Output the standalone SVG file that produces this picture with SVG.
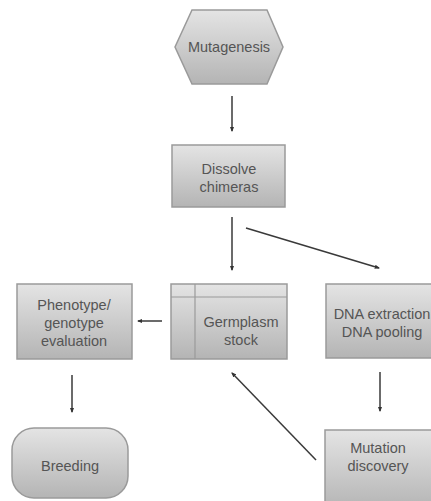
<svg xmlns="http://www.w3.org/2000/svg" width="431" height="501" viewBox="0 0 431 501">
<defs>
<linearGradient id="g" x1="0" y1="0" x2="0" y2="1">
<stop offset="0" stop-color="#e4e4e4"/>
<stop offset="1" stop-color="#b4b4b4"/>
</linearGradient>
<marker id="a" viewBox="0 0 10 10" refX="8" refY="5" markerWidth="3.5" markerHeight="3.5" orient="auto">
<path d="M0,1 L10,5 L0,9 z" fill="#333"/>
</marker>
<style>
.n{fill:url(#g);stroke:#9a9a9a;stroke-width:1.5}
.t{font-family:"Liberation Sans",Arial,sans-serif;font-size:14.5px;fill:#555;text-anchor:middle}
.c{stroke:#3a3a3a;stroke-width:1.5;fill:none;marker-end:url(#a)}
.i{stroke:#9a9a9a;stroke-width:1.2;fill:none}
</style>
</defs>
<rect width="431" height="501" fill="#fff"/>
<g id="connectors">
<line class="c" x1="232" y1="96" x2="232" y2="131"/>
<line class="c" x1="232" y1="217" x2="232" y2="270"/>
<line class="c" x1="246" y1="228" x2="379" y2="268"/>
<line class="c" x1="162" y1="321" x2="138" y2="321"/>
<line class="c" x1="380" y1="372" x2="380" y2="411"/>
<line class="c" x1="316" y1="460" x2="232" y2="373"/>
<line class="c" x1="72" y1="375" x2="72" y2="412"/>
</g>
<g id="mutagenesis">
<polygon class="n" points="192,10 267,10 283,47 267,84 192,84 175,47"/>
<text class="t" x="229" y="52">Mutagenesis</text>
</g>
<g id="dissolve">
<rect class="n" x="172" y="145" width="113" height="62"/>
<text class="t" x="229" y="174">Dissolve</text>
<text class="t" x="229" y="192">chimeras</text>
</g>
<g id="phenotype">
<rect class="n" x="17" y="284" width="115" height="75"/>
<text class="t" x="74" y="310">Phenotype/</text>
<text class="t" x="74" y="328">genotype</text>
<text class="t" x="74" y="346">evaluation</text>
</g>
<g id="germplasm">
<rect class="n" x="171" y="284" width="116" height="75"/>
<line class="i" x1="195" y1="284" x2="195" y2="359"/>
<line class="i" x1="171" y1="297" x2="287" y2="297"/>
<text class="t" x="241" y="327">Germplasm</text>
<text class="t" x="241" y="345">stock</text>
</g>
<g id="dna">
<rect class="n" x="326" y="284" width="116" height="74"/>
<text class="t" x="382" y="319">DNA extraction</text>
<text class="t" x="382" y="337">DNA pooling</text>
</g>
<g id="mutation">
<rect class="n" x="325" y="430" width="116" height="80"/>
<text class="t" x="378" y="453">Mutation</text>
<text class="t" x="378" y="471">discovery</text>
</g>
<g id="breeding">
<rect class="n" x="12" y="428" width="116" height="70" rx="22" ry="22"/>
<text class="t" x="70" y="471">Breeding</text>
</g>
</svg>
